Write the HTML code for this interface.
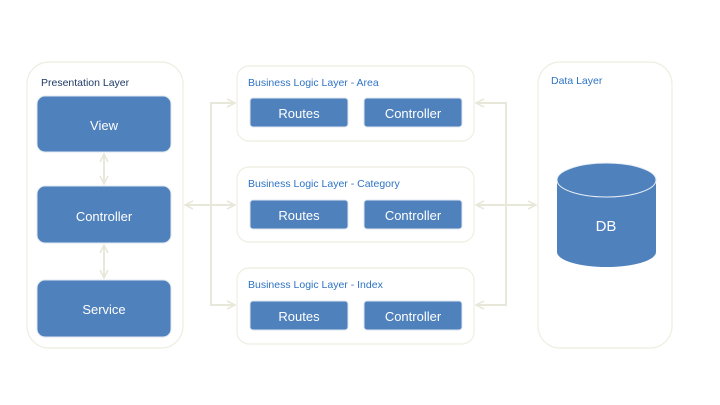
<!DOCTYPE html>
<html><head><style>
body{margin:0;background:#fff;}
svg{display:block;font-family:"Liberation Sans",sans-serif;}
</style></head><body>
<svg width="720" height="405" viewBox="0 0 720 405">
<defs>
<marker id="a" viewBox="0 0 10 10" refX="9" refY="5" markerWidth="10" markerHeight="10" orient="auto-start-reverse" markerUnits="userSpaceOnUse">
<path d="M1,1 L9,5 L1,9" fill="none" stroke="#e8e8da" stroke-width="1.6"/></marker>
</defs>
<g fill="#fff" stroke="#eeeee2" stroke-width="1.2">
<rect x="27" y="62" width="156" height="286" rx="22"/>
<rect x="237" y="66" width="237" height="75" rx="12"/>
<rect x="237" y="167" width="237" height="75" rx="12"/>
<rect x="237" y="268" width="237" height="76" rx="12"/>
<rect x="538" y="62" width="134" height="286" rx="22"/>
</g>
<g stroke="#e8e8da" stroke-width="2" fill="none">
<line x1="104" y1="154" x2="104" y2="184" marker-start="url(#a)" marker-end="url(#a)"/>
<line x1="104" y1="245" x2="104" y2="278" marker-start="url(#a)" marker-end="url(#a)"/>
<line x1="185" y1="205" x2="235" y2="205" marker-start="url(#a)" marker-end="url(#a)"/>
<polyline points="235,103 211,103 211,305 235,305" marker-start="url(#a)" marker-end="url(#a)"/>
<polyline points="476,103 506,103 506,305 476,305" marker-start="url(#a)" marker-end="url(#a)"/>
<line x1="476" y1="205" x2="536" y2="205" marker-start="url(#a)" marker-end="url(#a)"/>
</g>
<g fill="#4f81bd" stroke="#dfe6ef" stroke-width="1">
<rect x="37" y="96" width="134" height="56" rx="8"/>
<rect x="37" y="186" width="134" height="57" rx="8"/>
<rect x="37" y="280" width="134" height="57" rx="8"/>
<rect x="250" y="98" width="98" height="29" rx="3"/>
<rect x="364" y="98" width="98" height="29" rx="3"/>
<rect x="250" y="200" width="98" height="29" rx="3"/>
<rect x="364" y="200" width="98" height="29" rx="3"/>
<rect x="250" y="301" width="98" height="29" rx="3"/>
<rect x="364" y="301" width="98" height="29" rx="3"/>
<path d="M557,180 L557,252 A49.5,15 0 0 0 656,252 L656,180 Z" stroke="none"/>
<ellipse cx="606.5" cy="180" rx="49.5" ry="17" stroke="#e8eef5"/>
</g>
<g font-size="13" fill="#fff" text-anchor="middle">
<text x="104" y="130">View</text>
<text x="104" y="221">Controller</text>
<text x="104" y="314">Service</text>
<text x="299" y="118">Routes</text><text x="413" y="118">Controller</text>
<text x="299" y="220">Routes</text><text x="413" y="220">Controller</text>
<text x="299" y="321">Routes</text><text x="413" y="321">Controller</text>
<text x="606" y="231" font-size="15">DB</text>
</g>
<g font-size="10.5">
<text x="41" y="86" fill="#1f3a68">Presentation Layer</text>
<text x="248" y="86" fill="#2f73c4">Business Logic Layer - Area</text>
<text x="248" y="187" fill="#2f73c4">Business Logic Layer - Category</text>
<text x="248" y="288" fill="#2f73c4">Business Logic Layer - Index</text>
<text x="551" y="84" fill="#2f73c4">Data Layer</text>
</g>
</svg>
</body></html>
